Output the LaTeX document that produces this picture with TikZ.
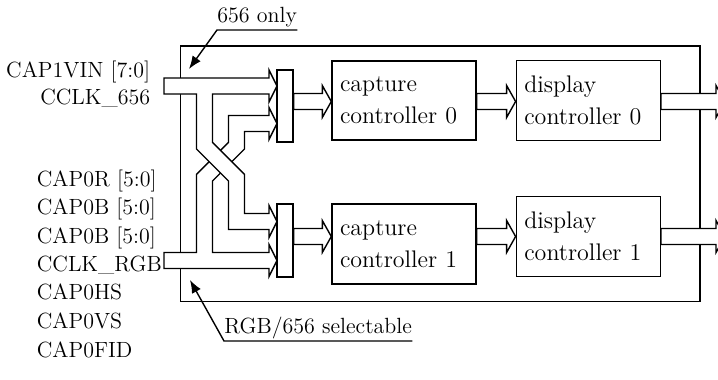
\documentclass[tikz,border=0pt]{standalone}
\usetikzlibrary{calc,arrows.meta}
\tikzset{
  wire/.style={line width=0.7pt},
  bus/.style={wire, draw, fill=white, line join=miter},
  block/.style={wire, draw, fill=white, align=left, text width=64pt, inner xsep=4pt,
    minimum width=72pt, minimum height=40pt, font=\fontsize{12}{15.8}\selectfont},
  muxbox/.style={wire, draw, fill=white, minimum width=8pt, inner sep=0pt},
  pin/.style={inner sep=0pt, text height=8pt, text depth=2pt},
  note/.style={pin, anchor=south west, inner ysep=1.5pt},
  leader/.style={wire, -{Latex[length=6.5pt,width=5pt]}},
}
% hollow bus arrow from #1 to tip #2
\newcommand{\fatarrow}[2]{%
  \draw[bus] ($(#1)+(0,-8)$) -- ($(#2)+(-9,-8)$) -- ($(#2)+(-9,-16)$) -- (#2)
    -- ($(#2)+(-9,16)$) -- ($(#2)+(-9,8)$) -- ($(#1)+(0,8)$) -- cycle;}
\begin{document}
\begin{tikzpicture}[x=0.5pt, y=-0.5pt, font=\fontsize{11}{13}\selectfont]
\useasboundingbox (0,0) rectangle (718,380);
\clip (0,0) rectangle (718,380);

% frame
\draw[wire] (180.5,46) rectangle (700,301.5);

% RGB bus and its branch up to mux 0
\draw[bus] (164,252.5) -- (196.5,252.5) -- (196.5,174.4) -- (228.5,142.4) -- (228.5,115.5)
  -- (269,115.5) -- (269,107.5) -- (277,123.5) -- (269,139.5) -- (269,131.5)
  -- (244.5,131.5) -- (244.5,149) -- (212.5,181) -- (212.5,252.5)
  -- (269,252.5) -- (269,244.5) -- (277,260.5) -- (269,276.5) -- (269,268.5)
  -- (164,268.5) -- cycle;
% 656 bus and its branch down to mux 1 (over the RGB one)
\draw[bus] (164,78) -- (269,78) -- (269,70) -- (277,86) -- (269,102) -- (269,94)
  -- (212.5,94) -- (212.5,142.4) -- (244.5,174.4) -- (244.5,213.5)
  -- (269,213.5) -- (269,205.5) -- (277,221.5) -- (269,237.5) -- (269,229.5)
  -- (228.5,229.5) -- (228.5,181) -- (196.5,149) -- (196.5,94)
  -- (164,94) -- cycle;

% muxes
\node[muxbox, minimum height=36pt] (mux0) at (285,106) {};
\node[muxbox, minimum height=36.5pt] (mux1) at (285,240.5) {};

% controllers
\node[block, minimum height=39.5pt] (cap0) at (404,100.5) {capture\\controller 0};
\node[block] (cap1) at (404,244) {capture\\controller 1};
\node[block] (disp0) at (588.3,100.3) {display\\controller 0};
\node[block] (disp1) at (588.3,236.3) {display\\controller 1};

\coordinate (row0) at (0,101.5);
\coordinate (row1) at (0,236.5);
\coordinate (out) at (725,0);

\fatarrow{mux0.east |- row0}{cap0.west |- row0}
\fatarrow{mux1.east |- row1}{cap1.west |- row1}
\fatarrow{cap0.east |- row0}{disp0.west |- row0}
\fatarrow{cap1.east |- row1}{disp1.west |- row1}
\fatarrow{disp0.east |- row0}{out |- row0}
\fatarrow{disp1.east |- row1}{out |- row1}

% input names
\node[pin, anchor=east] (vin) at (150.5,71) {CAP1VIN [7:0]};
\node[pin, anchor=east] (clk656) at (150.5,98) {CCLK\_656};
\node[pin, anchor=west] (capr) at (36.5,180) {CAP0R [5:0]};
\node[pin, anchor=west] (capg) at (36.5,208.5) {CAP0B [5:0]};
\node[pin, anchor=west] (capb) at (36.5,237) {CAP0B [5:0]};
\node[pin, anchor=west] (clkrgb) at (36.5,265) {CCLK\_RGB};
\node[pin, anchor=west] (hs) at (36.5,293.5) {CAP0HS};
\node[pin, anchor=west] (vs) at (36.5,322) {CAP0VS};
\node[pin, anchor=west] (fid) at (36.5,351) {CAP0FID};

% notes
\node[note] (only) at (217,30) {656 only};
\coordinate (tiponly) at (189,69);
\draw[leader] (only.south east) -- (only.south west) -- (tiponly);

\node[note] (sel) at (224,341) {RGB/656 selectable};
\coordinate (tipsel) at (190,280);
\draw[leader] (sel.south east) -- (sel.south west) -- (tipsel);
\end{tikzpicture}
\end{document}
